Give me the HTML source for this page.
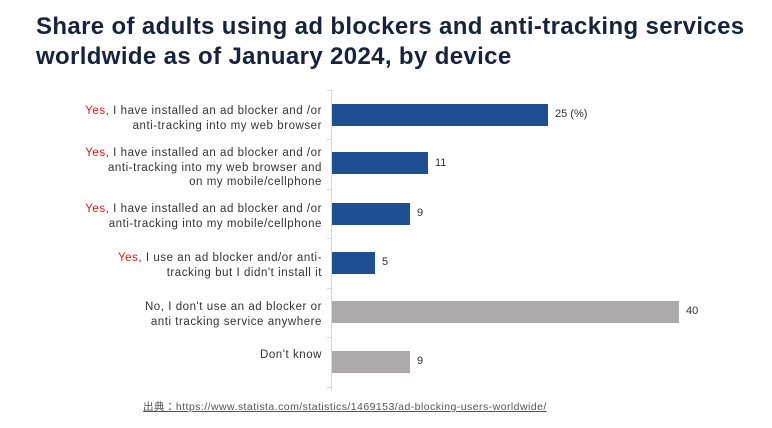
<!DOCTYPE html>
<html><head><style>
body{margin:0;width:772px;height:428px;background:#fff;position:relative;font-family:"Liberation Sans","Noto Sans CJK JP",sans-serif;overflow:hidden}
.t{position:absolute;left:36px;top:12px;font-size:24px;font-weight:bold;color:#17233d;line-height:30px;letter-spacing:0.36px;white-space:nowrap}
.l{position:absolute;right:450px;text-align:right;font-size:11.5px;letter-spacing:0.55px;color:#333;line-height:14.5px;white-space:nowrap}
.r{color:#e8141b}
.b{position:absolute;left:332px;height:22px}
.v{position:absolute;font-size:11px;color:#333}
.ax{position:absolute;left:331px;top:90px;width:1px;height:300px;background:#d8d8d8}
.tk{position:absolute;left:327px;width:5px;height:1px;background:#d8d8d8}
.s{position:absolute;left:143px;top:399px;font-size:10.5px;letter-spacing:0.45px;color:#555;text-decoration:underline;white-space:nowrap}
</style></head><body>
<div class="t">Share of adults using ad blockers and anti-tracking services<br>worldwide as of January 2024, by device</div>
<div class="ax"></div>
<div class="tk" style="top:90px"></div><div class="tk" style="top:139px"></div><div class="tk" style="top:189px"></div><div class="tk" style="top:238px"></div><div class="tk" style="top:288px"></div><div class="tk" style="top:337px"></div><div class="tk" style="top:387px"></div>
<div class="l" style="top:104px"><span class="r">Yes</span>, I have installed an ad blocker and /or<br>anti-tracking into my web browser</div>
<div class="l" style="top:146px"><span class="r">Yes</span>, I have installed an ad blocker and /or<br>anti-tracking into my web browser and<br>on my mobile/cellphone</div>
<div class="l" style="top:202px"><span class="r">Yes</span>, I have installed an ad blocker and /or<br>anti-tracking into my mobile/cellphone</div>
<div class="l" style="top:251px"><span class="r">Yes</span>, I use an ad blocker and/or anti-<br>tracking but I didn't install it</div>
<div class="l" style="top:300px">No, I don't use an ad blocker or<br>anti tracking service anywhere</div>
<div class="l" style="top:348px">Don't know</div>
<div class="b" style="top:104px;width:216px;background:#1f4e93"></div>
<div class="b" style="top:152px;width:96px;background:#1f4e93"></div>
<div class="b" style="top:203px;width:78px;background:#1f4e93"></div>
<div class="b" style="top:252px;width:43px;background:#1f4e93"></div>
<div class="b" style="top:301px;width:347px;background:#aeaaa9"></div>
<div class="b" style="top:351px;width:78px;background:#aeaaa9"></div>
<div class="v" style="left:555px;top:108px">25 (%)</div>
<div class="v" style="left:435px;top:157px">11</div>
<div class="v" style="left:417px;top:207px">9</div>
<div class="v" style="left:382px;top:256px">5</div>
<div class="v" style="left:686px;top:305px">40</div>
<div class="v" style="left:417px;top:355px">9</div>
<div class="s">出典：https://www.statista.com/statistics/1469153/ad-blocking-users-worldwide/</div>
</body></html>
